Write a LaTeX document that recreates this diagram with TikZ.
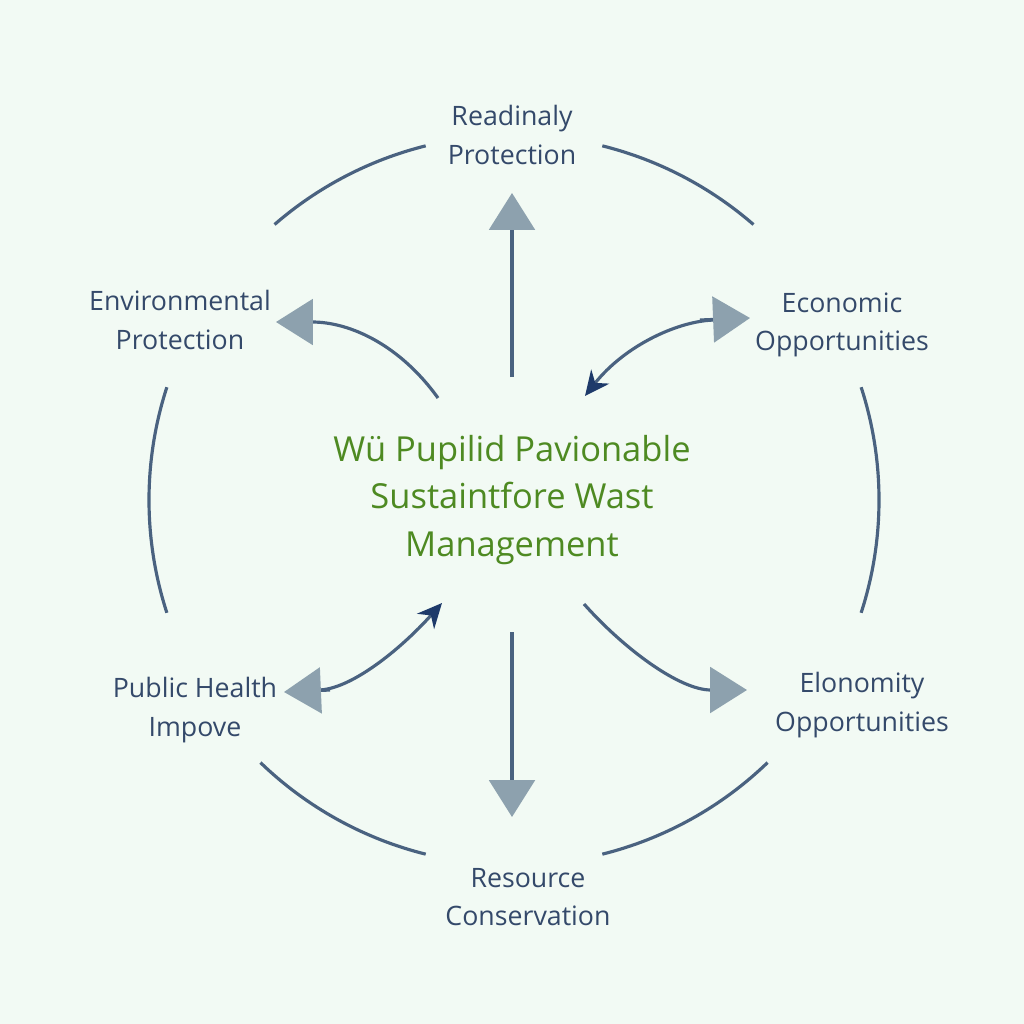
\documentclass[tikz,border=0pt]{standalone}
\usepackage{fontspec}
\setmainfont{Open Sans}
\usetikzlibrary{arrows.meta}
\definecolor{bg}{HTML}{F2FAF4}
\definecolor{arc}{HTML}{4A6280}
\definecolor{txt}{HTML}{34496A}
\definecolor{head}{HTML}{8DA1AE}
\definecolor{navy}{HTML}{1E3A6A}
\definecolor{grn}{HTML}{4E8A22}
\begin{document}
\begin{tikzpicture}[x=0.01cm,y=-0.01cm,
  lbl/.style={text=txt,font=\fontsize{7.6pt}{11pt}\selectfont,align=center},
  ring/.style={draw=arc,line width=0.9pt},
  conn/.style={draw=arc,line width=0.9pt},
  big/.style={-{Triangle[width=13pt,length=10.5pt,fill=head,color=head]}},
  bigs/.style={{Triangle[width=13pt,length=10.5pt,fill=head,color=head]}-},
  small/.style={{Stealth[length=7pt,width=6.5pt,color=navy]}-}]
\fill[bg] (0,0) rectangle (1024,1024);
\useasboundingbox (0,0) rectangle (1024,1024);
\coordinate (c) at (514,500);
\foreach \a/\b in {104/134,46/76,162/198,-18/18,229/256,284/311}
  \draw[ring] ([shift={(\a:365)}]c) arc[start angle=\a,end angle=\b,radius=365];
\node[lbl] (t) at (512,135) {Readinaly\\Protection};
\node[lbl] (el) at (180,320) {Environmental\\Protection};
\node[lbl] (er) at (842,325) {Economic\\Opportunities};
\node[lbl] (pl) at (195,710) {Public Health\\Impove};
\node[lbl] (or) at (862,705) {Elonomity\\Opportunities};
\node[lbl] (b) at (528,897) {Resource\\Conservation};
\node[text=grn,font=\fontsize{9.8pt}{13.5pt}\selectfont,align=center] (m) at (512,500) {Wü Pupilid Pavionable\\Sustaintfore Wast\\Management};
\coordinate (u0) at (512,377); \coordinate (u1) at (512,193);
\coordinate (d0) at (512,632); \coordinate (d1) at (512,817);
\coordinate (ul0) at (438,398); \coordinate (ul1) at (276,322);
\coordinate (ur0) at (585,396); \coordinate (ur1) at (750,318);
\coordinate (ll0) at (442,603); \coordinate (ll1) at (284,692);
\coordinate (lr0) at (584,604); \coordinate (lr1) at (747,690);
\draw[conn,big] (u0) -- (u1);
\draw[conn,big] (d0) -- (d1);
\draw[conn,big] (ul0) .. controls (400,345) and (350,322) .. (ul1);
\draw[conn,small] (ur0) .. controls (625,345) and (680,320) .. (716,320);
\draw[conn,big] (700,320) -- (ur1);
\draw[conn,small] (ll0) .. controls (400,650) and (350,690) .. (318,690);
\draw[conn,big] (330,690) -- (ll1);
\draw[conn,big] (lr0) .. controls (625,650) and (680,690) .. (lr1);
\end{tikzpicture}
\end{document}
